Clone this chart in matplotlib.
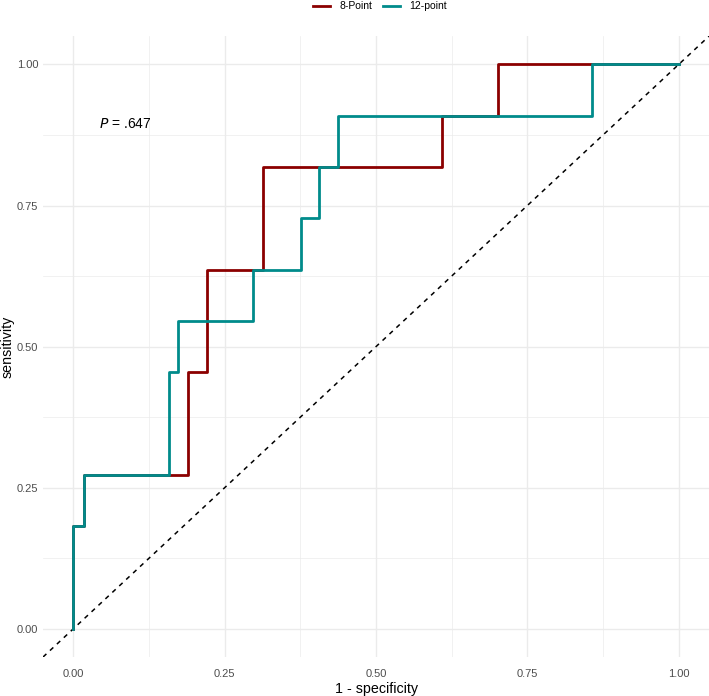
import numpy as np
import matplotlib.pyplot as plt

plt.rcParams['font.family'] = ['Liberation Sans', 'DejaVu Sans']

# ROC steps (1 - specificity, sensitivity)
fpr_8 = [0.0, 0.0, 0.017, 0.017, 0.189, 0.189, 0.220, 0.220, 0.314, 0.314, 0.609, 0.609, 0.702, 0.702, 1.0]
tpr_8 = [0.0, 2/11, 2/11, 3/11, 3/11, 5/11, 5/11, 7/11, 7/11, 9/11, 9/11, 10/11, 10/11, 1.0, 1.0]

fpr_12 = [0.0, 0.0, 0.017, 0.017, 0.158, 0.158, 0.173, 0.173, 0.297, 0.297, 0.376, 0.376, 0.406, 0.406, 0.438, 0.438, 0.857, 0.857, 1.0]
tpr_12 = [0.0, 2/11, 2/11, 3/11, 3/11, 5/11, 5/11, 6/11, 6/11, 7/11, 7/11, 8/11, 8/11, 9/11, 9/11, 10/11, 10/11, 1.0, 1.0]

ticks = [0.0, 0.25, 0.5, 0.75, 1.0]
tick_labels = ["0.00", "0.25", "0.50", "0.75", "1.00"]

fig = plt.figure(figsize=(7.09, 6.96), dpi=100)
ax = fig.add_axes([0.0607, 0.056, 0.9393, 0.892])

ax.plot([-0.05, 1.05], [-0.05, 1.05], color='black', ls=(0, (3, 3.2)), lw=1.1, zorder=2)
ax.plot(fpr_8, tpr_8, color='#8B0000', lw=2.0, label='8-Point', zorder=3)
ax.plot(fpr_12, tpr_12, color='#008B8B', lw=2.0, label='12-point', zorder=4)

ax.text(0.086, 0.894, r'$P$ = .647', fontsize=10, ha='center', va='center')

ax.set_xlim(-0.05, 1.05)
ax.set_ylim(-0.05, 1.05)
ax.set_xticks(ticks)
ax.set_xticklabels(tick_labels)
ax.set_yticks(ticks)
ax.set_yticklabels(tick_labels)
ax.set_xticks(np.arange(0.125, 1.0, 0.25), minor=True)
ax.set_yticks(np.arange(0.125, 1.0, 0.25), minor=True)
ax.grid(which='major', color='#EBEBEB', lw=1.0)
ax.grid(which='minor', color='#EBEBEB', lw=0.5)
ax.set_axisbelow(True)
ax.tick_params(which='both', length=0, labelsize=8, labelcolor='#4D4D4D')
ax.tick_params(axis='y', pad=3.5)
ax.tick_params(axis='x', pad=8.5)
for s in ax.spines.values():
    s.set_visible(False)

ax.set_xlabel('1 - specificity', fontsize=10.3, labelpad=2)
ax.set_ylabel('sensitivity', fontsize=10.3)
ax.yaxis.label.set_va('center')
ax.yaxis.set_label_coords(-0.054, 0.5)

fig.legend(loc='center', bbox_to_anchor=(0.536, 0.991), ncol=2, frameon=False,
           fontsize=7.5, handlelength=1.63, columnspacing=1.05, handletextpad=0.87)

fig.savefig('out.png', dpi=100)
